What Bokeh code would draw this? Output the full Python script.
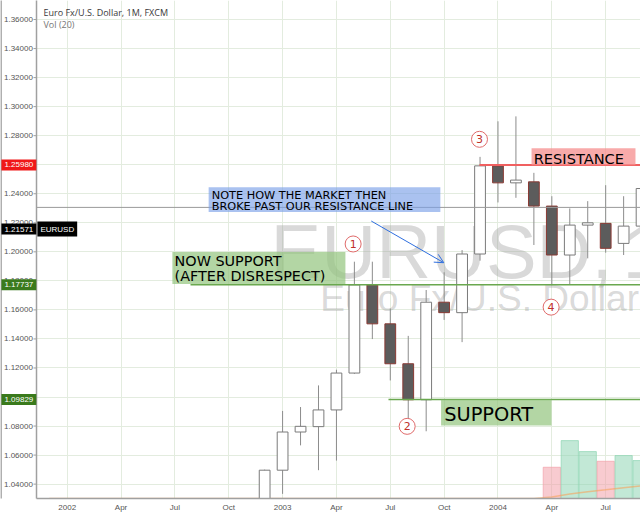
from bokeh.plotting import figure
from bokeh.models import (Range1d, FixedTicker, Label, BoxAnnotation, Arrow,
                          OpenHead)
from bokeh.core.properties import value
from bokeh.embed import file_html
from bokeh.resources import INLINE

# ---------------- data (monthly EUR/USD candles, FXCM) ----------------
months = ["2002-12", "2003-01", "2003-02", "2003-03", "2003-04", "2003-05",
          "2003-06", "2003-07", "2003-08", "2003-09", "2003-10", "2003-11",
          "2003-12", "2004-01", "2004-02", "2004-03", "2004-04", "2004-05",
          "2004-06", "2004-07", "2004-08", "2004-09"]
opens = [0.9880, 1.0496, 1.0759, 1.0796, 1.0911, 1.1165,
         1.1772, 1.1504, 1.1229, 1.0981, 1.1653, 1.1581,
         1.1985, 1.2592, 1.2475, 1.2482, 1.2315, 1.1978,
         1.2184, 1.2196, 1.2058, 1.2177]
highs = [1.0500, 1.0904, 1.0931, 1.1080, 1.1188, 1.1932,
         1.1932, 1.1609, 1.1421, 1.1737, 1.1859, 1.2012,
         1.2654, 1.2899, 1.2933, 1.2544, 1.2383, 1.2299,
         1.2349, 1.2459, 1.2383, 1.2470]
lows = [0.9860, 1.0333, 1.0667, 1.0496, 1.0562, 1.1160,
        1.1399, 1.1114, 1.0770, 1.0764, 1.1531, 1.1378,
        1.1939, 1.2340, 1.2372, 1.2047, 1.1770, 1.1777,
        1.1955, 1.1994, 1.1978, 1.2071]
closes = [1.0496, 1.0759, 1.0798, 1.0911, 1.1165, 1.1772,
          1.1504, 1.1229, 1.0981, 1.1653, 1.1581, 1.1985,
          1.2592, 1.2475, 1.2494, 1.2315, 1.1978, 1.2184,
          1.2200, 1.2024, 1.2177, 1.2436]

vol_start = "2001-12"
volumes = [0, 0, 0, 0, 0, 0, 0, 0, 0, 0, 0, 0, 0, 0,
           0, 0, 0, 0, 0, 0, 0, 0, 0, 0, 0, 0, 0, 0,
           313, 580, 470, 373, 430, 380]

tick_dates = ["2002-01", "2002-04", "2002-07", "2002-10", "2003-01", "2003-04",
              "2003-07", "2003-10", "2004-01", "2004-04", "2004-07"]
tick_labels = ["2002", "Apr", "Jul", "Oct", "2003", "Apr", "Jul", "Oct",
               "2004", "Apr", "Jul"]
price_ticks = [1.04, 1.06, 1.08, 1.10, 1.12, 1.14, 1.16, 1.18, 1.20,
               1.22, 1.24, 1.26, 1.28, 1.30, 1.32, 1.34, 1.36]

resistance = 1.25980
now_support = 1.17737
support = 1.09829
last_price = 1.21571
drawn_line = 1.2306


def midx(s):
    y, m = s.split("-")
    return (int(y) - 2002) * 12 + int(m) - 1


xs = [midx(m) for m in months]
tick_x = [midx(t) for t in tick_dates]
v0 = midx(vol_start)
vx = [v0 + i for i in range(len(volumes))]
ma = []
for i in range(len(volumes)):
    w = volumes[max(0, i - 19):i + 1]
    ma.append(sum(w) / 20.0)

up = [c >= o for o, c in zip(opens, closes)]

# ---------------- figure ----------------
XL, X0, X1 = -3.716, -1.71, 31.94      # canvas left, price-axis line, right
YB, YT = 1.0301, 1.3731
PX_Y = 1455.0                          # pixels per price unit
p = figure(width=640, height=514, x_range=Range1d(XL, X1),
           y_range=Range1d(YB, YT), output_backend="svg",
           toolbar_location=None, y_axis_location=None,
           min_border_left=0, min_border_right=0,
           min_border_top=0, min_border_bottom=15)
p.outline_line_color = None
p.extra_y_ranges = {"vol": Range1d(0, 4990)}

p.xgrid.ticker = FixedTicker(ticks=tick_x)
p.ygrid.ticker = FixedTicker(ticks=price_ticks)
p.grid.grid_line_color = "#e3ecdf"
p.grid.grid_line_width = 1

ax = p.xaxis[0]
ax.ticker = FixedTicker(ticks=tick_x)
ax.major_label_overrides = dict(zip(tick_x, tick_labels))
ax.bounds = (X0, X1 + 1)
ax.axis_line_color = "#a0a0a0"
ax.axis_line_width = 1.5
ax.major_tick_line_color = None
ax.major_tick_out = 0
ax.major_tick_in = 0
ax.minor_tick_line_color = None
ax.major_label_standoff = 4
ax.major_label_text_font = "Liberation Sans"
ax.major_label_text_font_size = "8px"
ax.major_label_text_color = "#555555"

# white price-scale area on the left
p.quad(left=[XL - 1], right=[X0], bottom=[YB - 1], top=[YT + 1],
       fill_color="white", line_color=None)
p.segment(x0=[XL + 0.03], y0=[YB - 1], x1=[XL + 0.03], y1=[YT + 1],
          line_color="#9a9a9a", line_width=1.5)

# watermark
wm = dict(text_font=value("Liberation Sans"), text_color="#a0a0a0",
          text_alpha=0.4, text_baseline="alphabetic")
p.text(x=[11.33], y=[1.1999], text=["EURUSD,"],
       text_font_size=value("76px"), **wm)
p.text(x=[30.94], y=[1.1999], text=["1M"],
       text_font_size=value("76px"), **wm)
p.text(x=[14.10], y=[1.1680], text=["Euro Fx/U.S. Dollar"],
       text_font_size=value("37px"), **wm)

# volume + MA
vol_up = []
for x in vx:
    vol_up.append(up[xs.index(x)] if x in xs else True)
vcol = ["#8fd6b4" if u else "#f2a0aa" for u in vol_up]
p.vbar(x=vx, width=0.96, top=volumes, bottom=0, y_range_name="vol",
       fill_color=vcol, fill_alpha=0.55, line_color=vcol, line_alpha=0.7)
p.line(x=vx, y=ma, y_range_name="vol", line_color="#f7a45c",
       line_alpha=0.6, line_width=1.5)

# candles
p.segment(x0=xs, y0=lows, x1=xs, y1=highs, line_color="#8c8c8c",
          line_width=1)
hx = [x for x, u in zip(xs, up) if u]
fx = [x for x, u in zip(xs, up) if not u]
p.vbar(x=hx, width=0.6,
       top=[c for c, u in zip(closes, up) if u],
       bottom=[o for o, u in zip(opens, up) if u],
       fill_color="white", line_color="#7a7a7a", line_width=1)
p.vbar(x=fx, width=0.6,
       top=[o for o, u in zip(opens, up) if not u],
       bottom=[c for c, u in zip(closes, up) if not u],
       fill_color="#5c5c5c", line_color="#8a3a34", line_width=1)

# drawn lines
p.segment(x0=[X0], y0=[drawn_line], x1=[X1 + 1], y1=[drawn_line],
          line_color="#9a9a9a", line_width=1)
p.segment(x0=[6.87], y0=[now_support], x1=[X1 + 1], y1=[now_support],
          line_color="#6aa84f", line_width=1.5)
p.segment(x0=[17.9], y0=[support], x1=[X1 + 1], y1=[support],
          line_color="#6aa84f", line_width=1.5)
p.segment(x0=[22.97], y0=[resistance], x1=[X1 + 1], y1=[resistance],
          line_color="#f06060", line_width=2)

# price axis line and ticks
p.segment(x0=[X0], y0=[YB - 1], x1=[X0], y1=[YT + 1],
          line_color="#a0a0a0", line_width=1.5)
p.segment(x0=[X0 - 0.167] * len(price_ticks), y0=price_ticks,
          x1=[X0] * len(price_ticks), y1=price_ticks,
          line_color="#a0a0a0", line_width=1)

# circled numbers
cx = [15.93, 18.94, 22.97, 26.96]
cy = [1.2054, 1.0798, 1.2775, 1.1619]
p.scatter(x=cx, y=cy, marker="circle", size=16, fill_color="white",
          line_color="#e06a6a", line_width=1)
p.text(x=cx, y=cy, text=["1", "2", "3", "4"], text_align="center",
       text_baseline="middle", text_color="#c0302a",
       text_font=value("DejaVu Sans"), text_font_size=value("11px"))

# text boxes
p.add_layout(BoxAnnotation(left=7.88, right=20.79, bottom=1.2274, top=1.2445,
                           fill_color="#7da2e8", fill_alpha=0.65,
                           line_color=None))
p.add_layout(BoxAnnotation(left=5.86, right=15.50, bottom=1.1779, top=1.1999,
                           fill_color="#93c47d", fill_alpha=0.7,
                           line_color=None))
p.add_layout(BoxAnnotation(left=20.83, right=26.98, bottom=1.0803, top=1.0982,
                           fill_color="#93c47d", fill_alpha=0.7,
                           line_color=None))
p.add_layout(BoxAnnotation(left=25.87, right=31.66, bottom=1.2597, top=1.2713,
                           fill_color="#f58e8e", fill_alpha=0.75,
                           line_color=None))


def lab(x, y, t, size, color="black", font="DejaVu Sans", **kw):
    p.add_layout(Label(x=x, y=y, text=t, text_font=font,
                       text_font_size=size, text_color=color, **kw))


def boxtext(x, y, t, fs):
    # y is the alphabetic baseline; shift for Bokeh's baseline handling
    lab(x, y + 0.27 * fs / PX_Y, t, "%.1fpx" % fs,
        text_baseline="alphabetic")


boxtext(8.05, 1.2368, "NOTE HOW THE MARKET THEN", 11.3)
boxtext(8.05, 1.2294, "BROKE PAST OUR RESISTANCE LINE", 11.3)
boxtext(5.98, 1.1911, "NOW SUPPORT", 14.4)
boxtext(5.98, 1.1808, "(AFTER DISRESPECT)", 14.4)
boxtext(21.0, 1.0844, "SUPPORT", 19.4)
boxtext(25.99, 1.2617, "RESISTANCE", 14.6)

# arrow
p.add_layout(Arrow(end=OpenHead(size=9, line_color="#2f6fdf", line_width=1),
                   x_start=16.94, y_start=1.2212, x_end=20.98, y_end=1.1925,
                   line_color="#2f6fdf", line_width=1))

# titles
lab(-1.32, 1.3648, "Euro Fx/U.S. Dollar, 1M, FXCM", "9px", color="#3a3a3a",
    font="Open Sans", text_baseline="middle")
lab(-1.32, 1.3566, "Vol (20)", "9px", color="#777777",
    font="Open Sans", text_baseline="middle")

# price scale labels
for t in price_ticks:
    lab(X0 - 0.2, t, "%.5f" % t, "8px", color="#555555",
        font="Liberation Sans", text_baseline="middle", text_align="right")


def badge(x, y, t, bg):
    p.add_layout(Label(x=x, y=y, text=t, text_font="Liberation Sans",
                       text_font_size="8px", text_color="white",
                       text_baseline="middle", background_fill_color=bg,
                       padding=3))


badge(XL + 0.05, resistance, "1.25980", "#f01818")
badge(XL + 0.05, last_price, "1.21571", "#000000")
badge(X0 + 0.05, last_price, "EURUSD", "#000000")
badge(XL + 0.05, now_support, "1.17737", "#3a7a1c")
badge(XL + 0.05, support, "1.09829", "#3a7a1c")

open("out.html", "w").write(file_html(p, INLINE))
